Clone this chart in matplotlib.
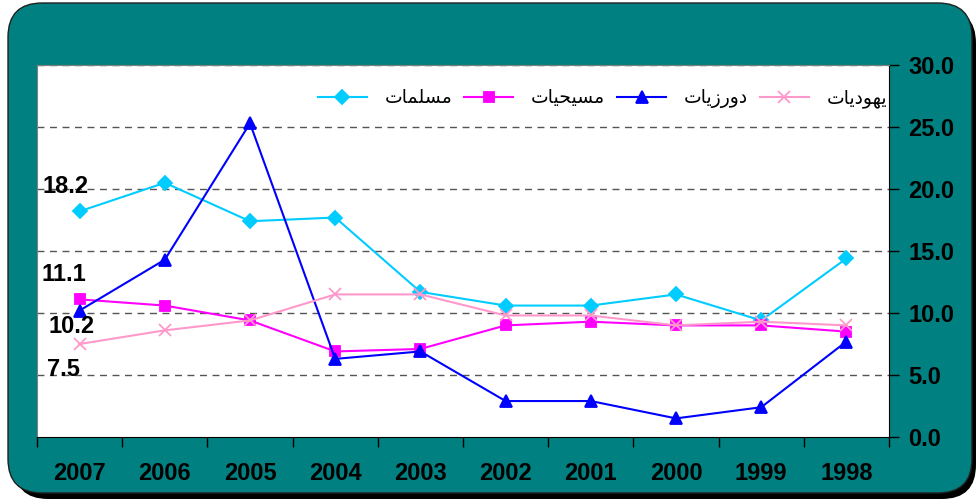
import matplotlib.pyplot as plt
from matplotlib.patches import FancyBboxPatch
import numpy as np

years = ['2007', '2006', '2005', '2004', '2003', '2002', '2001', '2000', '1999', '1998']

# Arabic names written in presentation forms, visual order (matplotlib does no shaping)
name_muslim = '\uFE95\uFE8E\uFEE4\uFEE0\uFEB4\uFEE3'      # مسلمات
name_christian = '\uFE95\uFE8E\uFEF4\uFEA4\uFEF4\uFEB4\uFEE3'  # مسيحيات
name_druze = '\uFE95\uFE8E\uFEF3\uFEAF\uFEAD\uFEED\uFEA9'  # دورزيات
name_jew = '\uFE95\uFE8E\uFEF3\uFEA9\uFEEE\uFEEC\uFEF3'    # يهوديات

muslims = [18.2, 20.5, 17.4, 17.7, 11.7, 10.6, 10.6, 11.5, 9.4, 14.4]
christians = [11.1, 10.6, 9.4, 6.9, 7.1, 9.0, 9.3, 9.0, 9.0, 8.5]
druze = [10.2, 14.3, 25.3, 6.3, 6.9, 2.9, 2.9, 1.5, 2.4, 7.7]
jews = [7.5, 8.6, 9.4, 11.5, 11.5, 9.8, 9.8, 9.0, 9.3, 9.0]

teal = '#008080'
bold = dict(fontfamily='Liberation Sans', fontweight='bold', fontsize=17)

fig = plt.figure(figsize=(9.76, 5.04), dpi=100)
W, H = 976, 504

# shadow + teal rounded frame
shadow = FancyBboxPatch((14 / W, 5 / H), 962 / W, 490 / H,
                        boxstyle='round,pad=0,rounding_size=0.035',
                        transform=fig.transFigure, facecolor='black',
                        edgecolor='none', mutation_aspect=W / H, zorder=0)
frame = FancyBboxPatch((8 / W, 11 / H), 964 / W, 490 / H,
                       boxstyle='round,pad=0,rounding_size=0.035',
                       transform=fig.transFigure, facecolor=teal,
                       edgecolor='#202020', linewidth=1.0,
                       mutation_aspect=W / H, zorder=1)
fig.patches.extend([shadow, frame])

ax = fig.add_axes([37 / W, 67 / H, 852 / W, 372 / H])
ax.set_zorder(2)
ax.set_facecolor('white')

x = np.arange(len(years))
series = [
    (muslims, name_muslim, '#00CCFF', 'D', 7),
    (christians, name_christian, '#FF00FF', 's', 7),
    (druze, name_druze, '#0000FF', '^', 8.5),
    (jews, name_jew, '#FF99CC', 'x', 8.5),
]
lines = []
for vals, name, col, mk, ms in series:
    ln, = ax.plot(x, vals, color=col, lw=1.5, marker=mk, markersize=ms,
                  markeredgecolor=col, markerfacecolor=col,
                  markeredgewidth=1.3, label=name, zorder=3)
    lines.append(ln)

ax.set_xlim(-0.5, len(years) - 0.5)
ax.set_ylim(0, 30)

for yv in range(5, 31, 5):
    ax.axhline(yv, color='#555555', lw=1, linestyle=(0, (5, 4)), zorder=1)

ax.yaxis.tick_right()
ax.set_yticks(range(0, 31, 5))
ax.set_yticklabels(['%.1f' % v for v in range(0, 31, 5)], **bold)
ax.tick_params(axis='y', direction='out', length=7, width=1, pad=7, colors='black')

ax.set_xticks(x)
ax.set_xticklabels(years, **bold)
ax.tick_params(axis='x', which='major', length=0, pad=18)
ax.set_xticks(np.arange(-0.5, len(years), 1.0), minor=True)
ax.tick_params(axis='x', which='minor', direction='out', length=7, width=1)

ax.spines['top'].set_color('#808080')
ax.spines['left'].set_color('#808080')
ax.spines['right'].set_color('black')
ax.spines['bottom'].set_color('black')

# data labels for 2007
offsets = [(-14, 25), (-16, 25), (-8, -16), (-16, -25)]
for (vals, name, col, mk, ms), off in zip(series, offsets):
    ax.annotate('%.1f' % vals[0], (0, vals[0]), xytext=off,
                textcoords='offset pixels', ha='center', va='center',
                zorder=4, **bold)

leg = ax.legend(handles=lines, loc='center right', bbox_to_anchor=(1.0, 0.911),
                ncol=4, frameon=False, handlelength=2.6, columnspacing=0.65,
                handletextpad=0.95, borderaxespad=0.0, borderpad=0.1,
                prop={'family': 'DejaVu Sans', 'size': 13.5})

fig.savefig('out.png', dpi=100)
